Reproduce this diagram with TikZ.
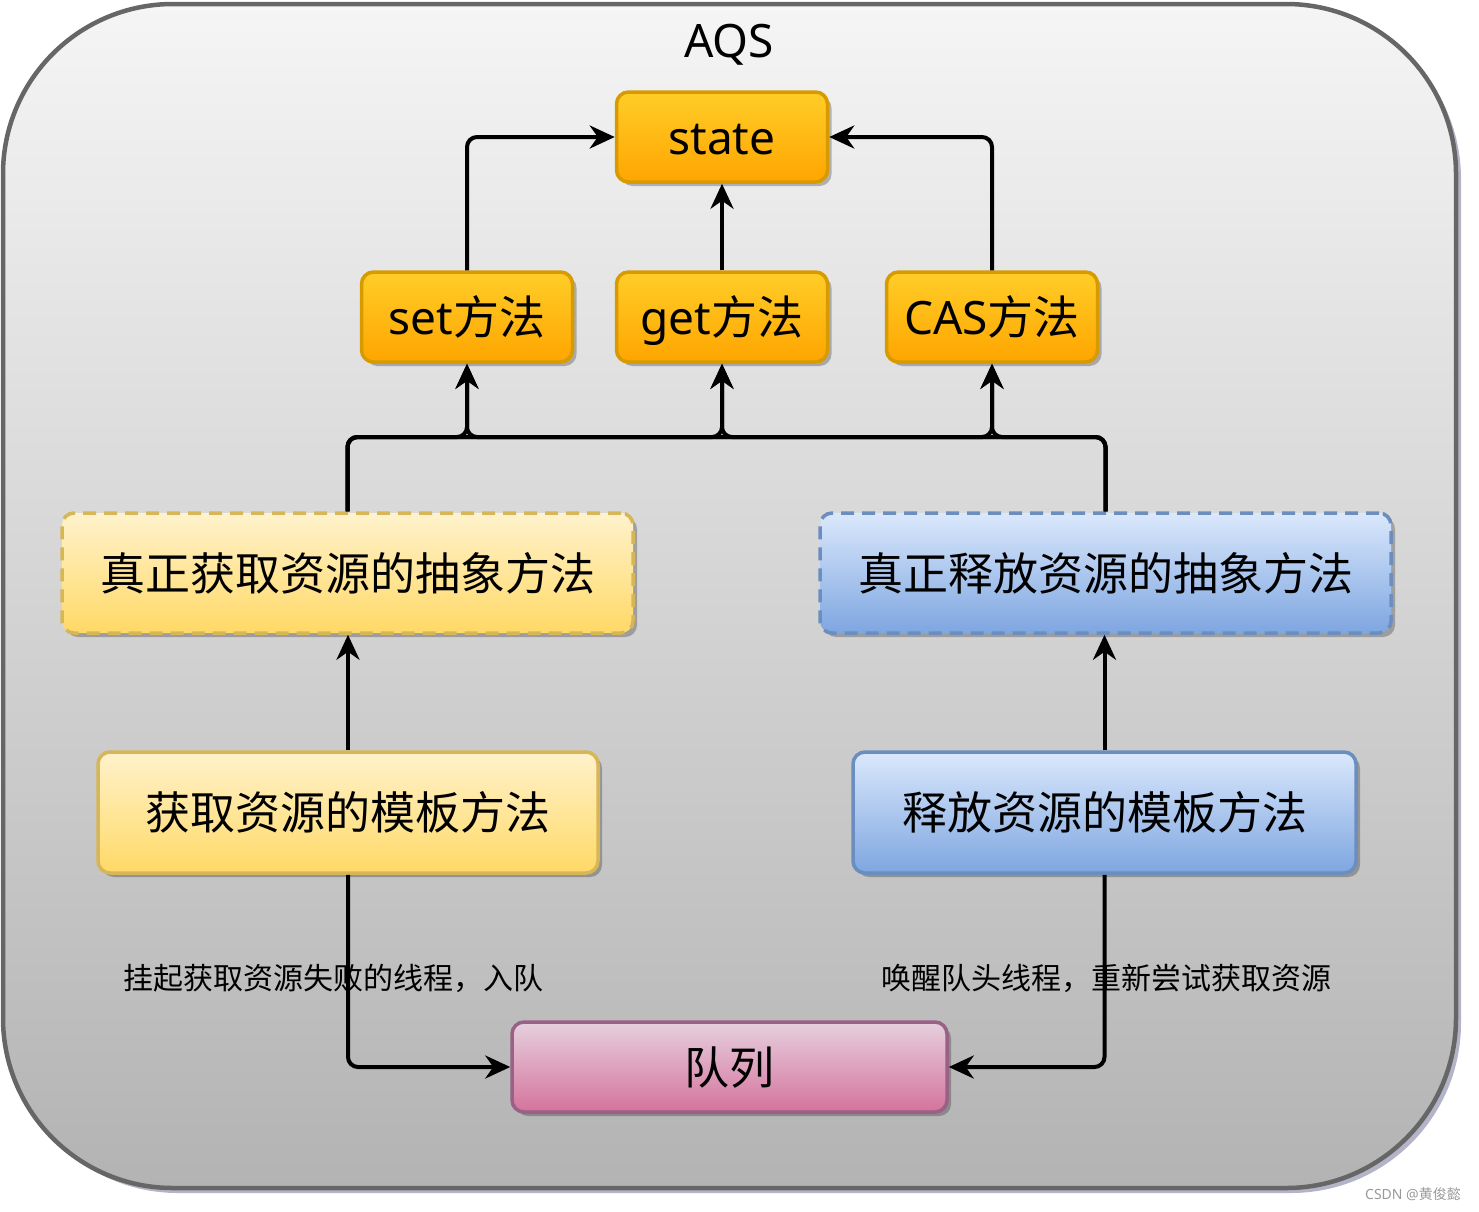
\documentclass[tikz,border=0pt]{standalone}
\usepackage{fontspec}
\setmainfont{Noto Sans}
\newfontfamily\cjk{Noto Sans CJK SC}
\usetikzlibrary{arrows.meta,shadows}
\definecolor{orTop}{HTML}{FFCD28}
\definecolor{orBot}{HTML}{FFA500}
\definecolor{orLine}{HTML}{D79B00}
\definecolor{yeTop}{HTML}{FFF2CC}
\definecolor{yeBot}{HTML}{FFD966}
\definecolor{yeLine}{HTML}{D6B656}
\definecolor{blTop}{HTML}{DAE8FC}
\definecolor{blBot}{HTML}{7EA6E0}
\definecolor{blLine}{HTML}{6C8EBF}
\definecolor{pkTop}{HTML}{E6D0DE}
\definecolor{pkBot}{HTML}{D5739D}
\definecolor{pkLine}{HTML}{996185}
\definecolor{bgTop}{HTML}{F5F5F5}
\definecolor{bgBot}{HTML}{B3B3B3}
\definecolor{bgLine}{HTML}{666666}
\newcommand\nodefont{\fontsize{46}{54}\selectfont}
\newcommand\cjknodefont{\fontsize{45}{54}\selectfont}
\newcommand\labelfont{\fontsize{30}{36}\selectfont}
\begin{document}
\begin{tikzpicture}[x=1pt,y=-1pt,
  box/.style={rectangle,rounded corners=12pt,line width=3.5pt,inner sep=0pt,
    font=\nodefont,text height=34pt,text depth=0pt,
    drop shadow={shadow xshift=4pt,shadow yshift=-4pt,fill=black,opacity=0.25}},
  orbox/.style={box,draw=orLine,top color=orTop,bottom color=orBot,
    minimum width=211pt,minimum height=90pt},
  yebox/.style={box,draw=yeLine,top color=yeTop,bottom color=yeBot,dash pattern=on 13pt off 8pt},
  blbox/.style={box,draw=blLine,top color=blTop,bottom color=blBot,dash pattern=on 13pt off 8pt},
  yesolid/.style={box,draw=yeLine,top color=yeTop,bottom color=yeBot},
  blsolid/.style={box,draw=blLine,top color=blTop,bottom color=blBot},
  pkbox/.style={box,draw=pkLine,top color=pkTop,bottom color=pkBot},
  conn/.style={line width=4pt,rounded corners=10pt,
    -{Stealth[length=25pt,width=23pt,inset=8pt]}},
  lbl/.style={font=\labelfont,inner sep=0pt}
]
\useasboundingbox (0,0) rectangle (1479,1211);
% outer container
\path[draw=bgLine,line width=4.5pt,top color=bgTop,bottom color=bgBot,rounded corners=170pt,
  drop shadow={shadow xshift=5pt,shadow yshift=-5pt,fill={rgb,255:red,130;green,130;blue,165},opacity=0.6}]
  (3,4) rectangle (1456,1188);
\node[font=\nodefont,inner sep=0pt,anchor=base] (aqs) at (729,57) {AQS};

% nodes
\node[orbox] (state) at (722,137) {state};
\node[orbox] (set) at (467,317) {set{\cjk 方法}};
\node[orbox] (get) at (722,317) {get{\cjk 方法}};
\node[orbox] (cas) at (992,317) {CAS{\cjk 方法}};
\node[yebox,minimum width=571pt,minimum height=120pt] (ga) at (347.5,573) {\cjknodefont\cjk 真正获取资源的抽象方法};
\node[blbox,minimum width=571pt,minimum height=120pt] (ra) at (1105.5,573) {\cjknodefont\cjk 真正释放资源的抽象方法};
\node[yesolid,minimum width=500pt,minimum height=121pt] (gt) at (348,812.5) {\cjknodefont\cjk 获取资源的模板方法};
\node[blsolid,minimum width=503pt,minimum height=121pt] (rt) at (1104.5,812.5) {\cjknodefont\cjk 释放资源的模板方法};
\node[pkbox,minimum width=435pt,minimum height=90pt] (q) at (729.5,1067) {\cjknodefont\cjk 队列};

\coordinate (bus) at (0,437);

% connectors
\draw[conn] (set.north) |- (state.west);
\draw[conn] (get.north) -- (state.south);
\draw[conn] (cas.north) |- (state.east);
\draw[conn] (ga.north) -- (ga.north |- bus) -| (set.south);
\draw[conn] (ga.north) -- (ga.north |- bus) -| (get.south);
\draw[conn] (ga.north) -- (ga.north |- bus) -| (cas.south);
\draw[conn] (ra.north) -- (ra.north |- bus) -| (set.south);
\draw[conn] (ra.north) -- (ra.north |- bus) -| (get.south);
\draw[conn] (ra.north) -- (ra.north |- bus) -| (cas.south);
\draw[conn] (gt.north) -- (gt.north |- ga.south);
\draw[conn] (rt.north) -- (rt.north |- ra.south);
\draw[conn] (gt.south) |- (q.west);
\draw[conn] (rt.south) |- (q.east);

% labels
\node[lbl] (l1) at (333,978) {\cjk 挂起获取资源失败的线程，入队};
\node[lbl] (l2) at (1106,978) {\cjk 唤醒队头线程，重新尝试获取资源};
\node[inner sep=0pt,font=\fontsize{14}{16}\selectfont,text=black!40] (wm) at (1413,1194) {CSDN @{\cjk 黄俊懿}};
\end{tikzpicture}
\end{document}
